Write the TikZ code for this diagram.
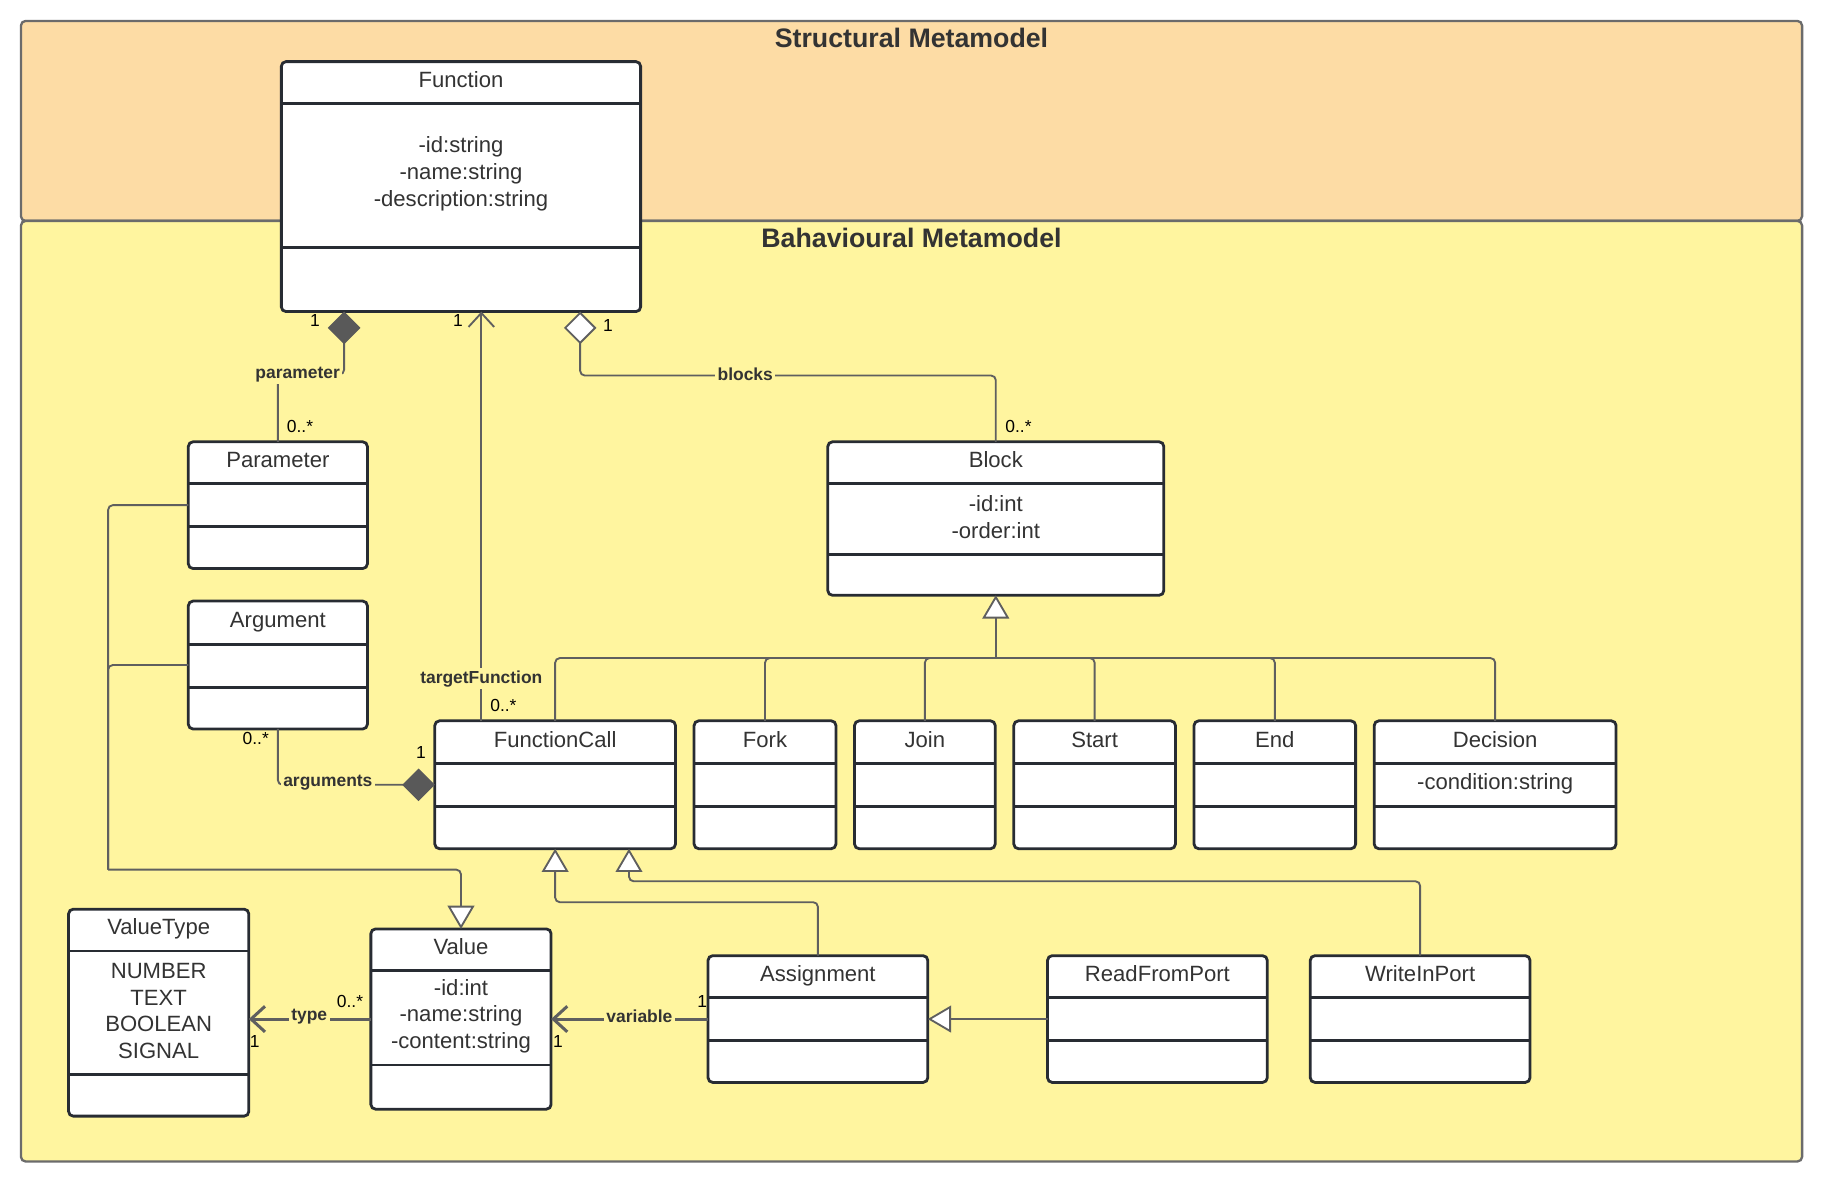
\documentclass[tikz,border=0pt]{standalone}
\usepackage{fontspec}
\setmainfont{Liberation Sans}
\usetikzlibrary{positioning,calc,arrows.meta}

\definecolor{strcol}{HTML}{FDDCA5}
\definecolor{behcol}{HTML}{FFF59F}
\definecolor{pkgcol}{HTML}{6B6B6B}
\definecolor{classcol}{HTML}{282C33}
\definecolor{linecol}{HTML}{5F5F5F}
\definecolor{dgray}{HTML}{595959}
\definecolor{txtcol}{HTML}{333333}

\tikzset{
  pkgbox/.style={draw=pkgcol, line width=1pt, rounded corners=2pt},
  pkgtitle/.style={font=\bfseries\fontsize{11.5}{14}\selectfont, text=txtcol},
  classbox/.style={draw=classcol, fill=white, line width=1.2pt, rounded corners=2pt,
    anchor=north west, inner sep=0pt, outer sep=0pt},
  classline/.style={draw=classcol, line width=1.2pt},
  classtxt/.style={font=\fontsize{9.5}{11.5}\selectfont, text=txtcol, inner sep=0pt},
  conn/.style={draw=linecol, line width=0.8pt, rounded corners=2pt},
  assoc/.style={draw=linecol, line width=1.3pt},
  role/.style={font=\bfseries\fontsize{7.5}{9}\selectfont, text=txtcol, fill=behcol, inner sep=1pt},
  mult/.style={font=\fontsize{7.5}{9}\selectfont, text=black, inner sep=0pt},
  gen/.style={-{Triangle[length=10pt, width=11.5pt, fill=white]}},
  comp/.style={{Diamond[length=14pt, width=14pt, fill=dgray, color=dgray]}-},
  aggr/.style={{Diamond[length=14pt, width=14pt, fill=white]}-},
  nav/.style={-{Straight Barb[length=6pt, width=11pt]}}
}

% name, x, y, width, height, first line, second line, title, attributes
\newcommand{\umlclass}[9]{%
  \node[classbox, minimum width=#4*0.5pt, minimum height=#5*0.5pt] (#1) at (#2,#3) {};
  \draw[classline] ($(#1.north west)+(0,#6)$) -- ($(#1.north east)+(0,#6)$);
  \draw[classline] ($(#1.north west)+(0,#7)$) -- ($(#1.north east)+(0,#7)$);
  \node[classtxt, text height=0.75em, text depth=0.2em] (#1-name) at ($(#1.north)+(0,#6/2-1.5)$) {#8};
  \node[classtxt, align=center] (#1-attr) at ($(#1.north)+(0,#6/2+#7/2-1.5)$) {#9};
}

\begin{document}
\begin{tikzpicture}[x=0.5pt,y=-0.5pt]
  \useasboundingbox (0,0) rectangle (1568,1017.5);

  % packages
  \draw[pkgbox, fill=strcol] (18,18) rectangle (1550,190);
  \draw[pkgbox, fill=behcol] (18,190) rectangle (1550,999);
  \node[pkgtitle] (strtitle) at (784,33) {Structural Metamodel};
  \node[pkgtitle] (behtitle) at (784,205) {Bahavioural Metamodel};

  % classes
  \umlclass{fn}{242}{53}{309}{215}{36}{160}{Function}{-id:string\\-name:string\\-description:string}
  \umlclass{par}{162}{380}{154}{109}{36}{73}{Parameter}{}
  \umlclass{arg}{162}{517}{154}{110}{37}{74}{Argument}{}
  \umlclass{blk}{712}{380}{289}{132}{36}{97}{Block}{-id:int\\-order:int}
  \umlclass{fcall}{374}{620}{207}{110}{37}{74}{FunctionCall}{}
  \umlclass{fork}{597}{620}{122}{110}{37}{74}{Fork}{}
  \umlclass{join}{735}{620}{121}{110}{37}{74}{Join}{}
  \umlclass{start}{872}{620}{139}{110}{37}{74}{Start}{}
  \umlclass{end}{1027}{620}{139}{110}{37}{74}{End}{}
  \umlclass{dec}{1182}{620}{208}{110}{37}{74}{Decision}{-condition:string}
  \umlclass{vtype}{59}{782}{155}{178}{36}{142}{ValueType}{NUMBER\\TEXT\\BOOLEAN\\SIGNAL}
  \umlclass{val}{319}{799}{155}{155}{36}{117}{Value}{-id:int\\-name:string\\-content:string}
  \umlclass{asg}{609}{822}{189}{109}{36}{73}{Assignment}{}
  \umlclass{rfp}{901}{822}{189}{109}{36}{73}{ReadFromPort}{}
  \umlclass{wip}{1127}{822}{189}{109}{36}{73}{WriteInPort}{}

  % parameter
  \coordinate (fn-par) at ($(fn.south west)+(54,0)$);
  \draw[conn, comp] (fn-par) -- ++(0,54) -| (par.north);
  \node[role] (par-role) at (256,322) {parameter};
  \node[mult] (par-m1) at (271,276) {1};
  \node[mult] (par-m2) at (258,367) {0..*};

  % targetFunction
  \coordinate (fc-tf) at ($(fcall.north west)+(40,0)$);
  \draw[conn, nav] (fc-tf) -- (fc-tf |- fn.south);
  \node[role] (tf-role) at (414,584) {targetFunction};
  \node[mult] (tf-m1) at (394,276) {1};
  \node[mult] (tf-m2) at (433,607) {0..*};

  % blocks
  \coordinate (fn-blk) at ($(fn.south west)+(257,0)$);
  \draw[conn, aggr] (fn-blk) -- ++(0,55) -| (blk.north);
  \node[role] (blk-role) at (641,322) {blocks};
  \node[mult] (blk-m1) at (523,280) {1};
  \node[mult] (blk-m2) at (876,367) {0..*};

  % block kinds
  \coordinate (gen-blk) at (blk.south |- 0,566);
  \draw[conn, gen] (gen-blk) -- (blk.south);
  \foreach \c in {fcall,fork,join,start,end,dec}
    \draw[conn] (\c.north) |- (gen-blk);

  % arguments
  \draw[conn, comp] (fcall.west) -| (arg.south);
  \node[role] (arg-role) at (282,673) {arguments};
  \node[mult] (arg-m1) at (220,635) {0..*};
  \node[mult] (arg-m2) at (362,647) {1};

  % values
  \coordinate (gen-val) at (93,748);
  \draw[conn] (par.west) -| (gen-val);
  \draw[conn] (arg.west) -| (gen-val);
  \draw[conn, gen] (gen-val) -| (val.north);

  % function calls
  \coordinate (fc-wip) at ($(fcall.south)+(63.5,0)$);
  \draw[conn, gen] (asg.north) -- ++(0,-46) -| (fcall.south);
  \draw[conn, gen] (wip.north) -- ++(0,-64) -| (fc-wip);
  \draw[conn, gen] (rfp.west) -- (asg.east);

  % variable
  \draw[assoc, nav] (asg.west) -- (val.east);
  \node[role] (var-role) at (550,874) {variable};
  \node[mult] (var-m1) at (604,861) {1};
  \node[mult] (var-m2) at (480,896) {1};

  % type
  \draw[assoc, nav] (val.west) -- (val.west -| vtype.east);
  \node[role] (type-role) at (266,874) {type};
  \node[mult] (type-m1) at (301,861) {0..*};
  \node[mult] (type-m2) at (219,896) {1};
\end{tikzpicture}
\end{document}
